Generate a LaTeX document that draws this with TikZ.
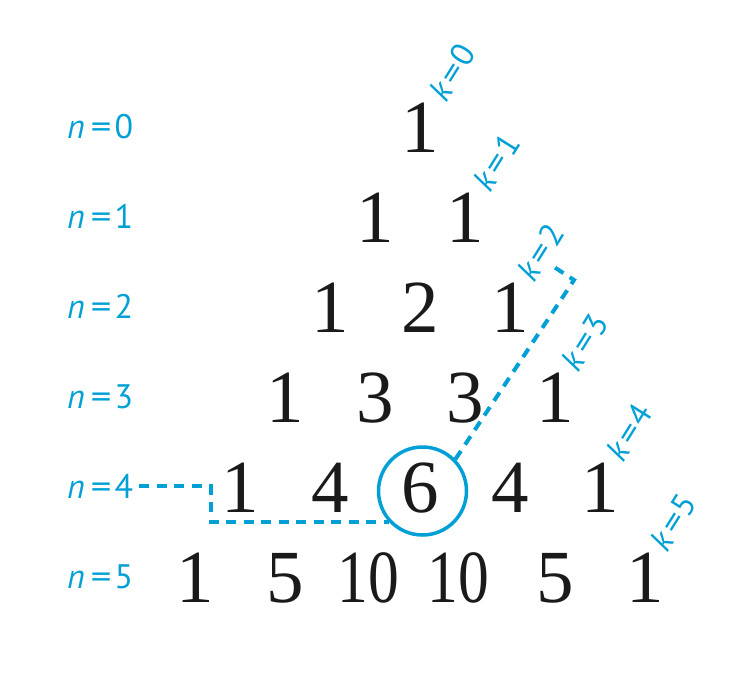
\documentclass[tikz,border=0pt]{standalone}
\usepackage{fontspec}
\setmainfont{Liberation Serif}
\newfontfamily\labfont{PT Sans}
\definecolor{pcyan}{RGB}{0,160,214}
\definecolor{numcol}{RGB}{26,26,26}
\begin{document}
\begin{tikzpicture}[x=1pt,y=-1pt,
  num/.style={anchor=base, inner sep=0pt, text=numcol, font=\fontsize{75}{75}\selectfont},
  nlab/.style={anchor=base west, inner sep=0pt, text=pcyan, font=\labfont\fontsize{34}{34}\selectfont},
  klab/.style={rotate=58, inner sep=0pt, text=pcyan, font=\labfont\fontsize{33}{33}\selectfont},
  guide/.style={draw=pcyan, line width=4pt, dash pattern=on 10pt off 7.5pt},
  ring/.style={circle, draw=pcyan, line width=3.5pt, minimum size=88pt, inner sep=0pt}]
\useasboundingbox (0,0) rectangle (736,694);
% row labels
\foreach \n in {0,...,5}{
  \node[nlab] (n\n) at (67,{138+90*\n}) {\textit{n}\kern6pt\scalebox{1.2}[1]{=}\kern3pt\n};
}
% diagonal labels
\foreach \k in {0,...,5}{
  \node[klab] (k\k) at ({452+44.2*\k},{72+90*\k}) {\textit{k}\kern3pt\scalebox{1.2}[1]{=}\kern2pt\k};
}
% triangle
\node[num] (r0c0) at (420,152) {1};
\node[num] (r1c0) at (375,242) {1};
\node[num] (r1c1) at (465,242) {1};
\node[num] (r2c0) at (330,332) {1};
\node[num] (r2c1) at (420,332) {2};
\node[num] (r2c2) at (510,332) {1};
\node[num] (r3c0) at (285,422) {1};
\node[num] (r3c1) at (375,422) {3};
\node[num] (r3c2) at (465,422) {3};
\node[num] (r3c3) at (555,422) {1};
\node[num] (r4c0) at (240,512) {1};
\node[num] (r4c1) at (330,512) {4};
\node[num] (r4c2) at (420,512) {6};
\node[num] (r4c3) at (510,512) {4};
\node[num] (r4c4) at (600,512) {1};
\node[num] (r5c0) at (195,602) {1};
\node[num] (r5c1) at (285,602) {5};
\node[num] (r5c2) at (368,602) {\scalebox{0.82}[1]{10}};
\node[num] (r5c3) at (458,602) {\scalebox{0.82}[1]{10}};
\node[num] (r5c4) at (555,602) {5};
\node[num] (r5c5) at (645,602) {1};
% highlight
\node[ring] (c6) at (422.5,491) {};
\coordinate (k2bend) at (574,280);
\coordinate (k2tip) at (551,265);
\draw[guide, shorten <=6pt] (n4.east) -| ([xshift=-178pt]c6.222) -- (c6.222);
\draw[guide] (c6.44) -- (k2bend) -- (k2tip);
\end{tikzpicture}
\end{document}
